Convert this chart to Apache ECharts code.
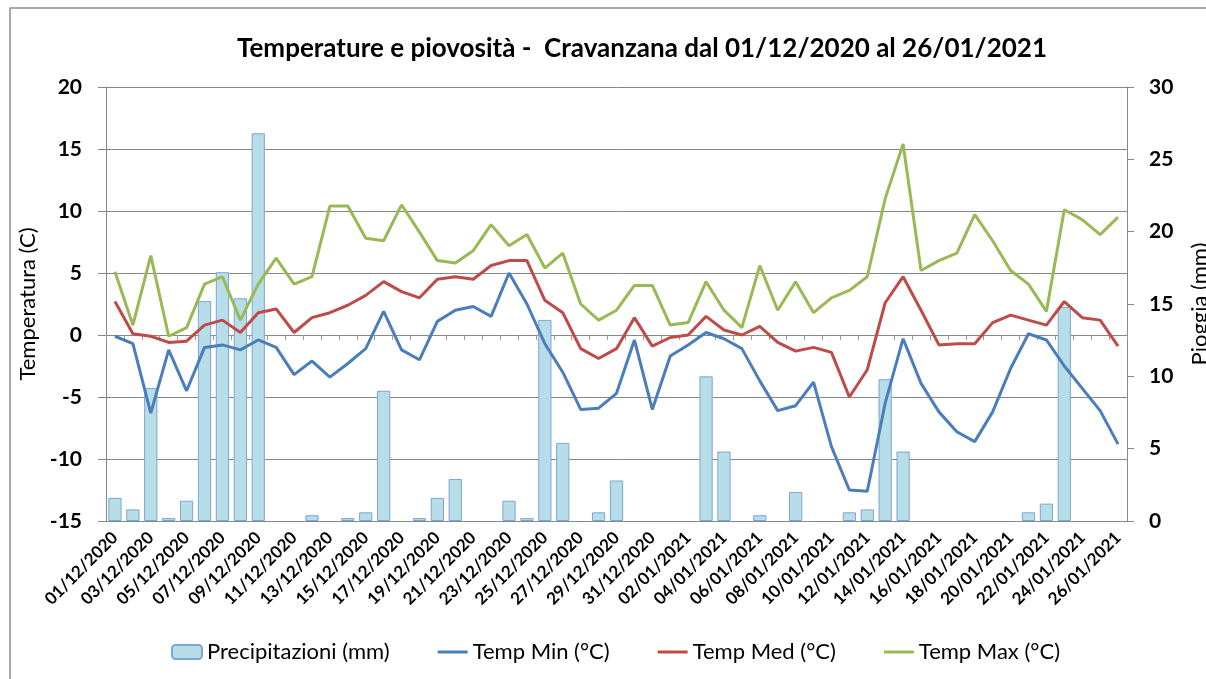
<!DOCTYPE html>
<html>
<head>
<meta charset="utf-8">
<script src="https://cdn.jsdelivr.net/npm/echarts@6/dist/echarts.min.js"></script>
<style>
  html, body { margin: 0; padding: 0; background: #fff; }
  #main { width: 1206px; height: 679px; }
</style>
</head>
<body>
<div id="main"></div>
<script>
// dati giornalieri 01/12/2020 - 26/01/2021
var days = [];
var start = new Date(2020, 11, 1);
for (var i = 0; i < 57; i++) {
    var d = new Date(start.getTime() + i * 24 * 3600 * 1000);
    var dd = ('0' + d.getDate()).slice(-2);
    var mm = ('0' + (d.getMonth() + 1)).slice(-2);
    days.push(dd + '/' + mm + '/' + d.getFullYear());
}

// null = nessuna pioggia
var pioggia = [1.6, 0.8, 9.2, 0.2, 1.4, 15.2, 17.2, 15.4, 26.8, null, null, 0.4, null, 0.2, 0.6,
    9.0, null, 0.2, 1.6, 2.9, null, null, 1.4, 0.2, 13.9, 5.4, null, 0.6, 2.8, null,
    null, null, null, 10.0, 4.8, null, 0.4, null, 2.0, null, null, 0.6, 0.8, 9.8, 4.8,
    null, null, null, null, null, null, 0.6, 1.2, 14.8, null, null, null];

var tMin = [-0.1, -0.7, -6.3, -1.2, -4.5, -1.0, -0.8, -1.2, -0.4, -1.0, -3.2, -2.1, -3.4, -2.3, -1.1,
    1.9, -1.2, -2.0, 1.1, 2.0, 2.3, 1.5, 5.0, 2.5, -0.7, -3.0, -6.0, -5.9, -4.7, -0.4,
    -6.0, -1.7, -0.8, 0.2, -0.3, -1.1, -3.7, -6.1, -5.7, -3.8, -9.0, -12.5, -12.6, -5.5, -0.3,
    -3.9, -6.2, -7.8, -8.6, -6.2, -2.7, 0.1, -0.4, -2.5, -4.3, -6.1, -8.8];

var tMed = [2.7, 0.1, -0.1, -0.6, -0.5, 0.8, 1.2, 0.2, 1.8, 2.1, 0.2, 1.4, 1.8, 2.4, 3.2,
    4.3, 3.5, 3.0, 4.5, 4.7, 4.5, 5.6, 6.0, 6.0, 2.8, 1.8, -1.1, -1.9, -1.1, 1.4,
    -0.9, -0.2, 0.0, 1.5, 0.4, 0.0, 0.7, -0.6, -1.3, -1.0, -1.4, -5.0, -2.8, 2.6, 4.7,
    2.0, -0.8, -0.7, -0.7, 1.0, 1.6, 1.2, 0.8, 2.7, 1.4, 1.2, -0.9];

var tMax = [5.1, 0.8, 6.4, -0.1, 0.6, 4.1, 4.7, 1.2, 4.1, 6.2, 4.1, 4.7, 10.4, 10.4, 7.8,
    7.6, 10.5, 8.3, 6.0, 5.8, 6.8, 8.9, 7.2, 8.1, 5.4, 6.6, 2.5, 1.2, 2.0, 4.0,
    4.0, 0.8, 1.0, 4.3, 2.0, 0.6, 5.6, 2.0, 4.3, 1.8, 3.0, 3.6, 4.7, 11.0, 15.4,
    5.2, 6.0, 6.6, 9.7, 7.6, 5.2, 4.1, 1.9, 10.1, 9.3, 8.1, 9.5];

var font = 'Lato, "Open Sans", sans-serif';
var gridGray = '#878787';
var lineIcon = 'path://M0,0h30v3h-30z';

var myChart = echarts.init(document.getElementById('main'));

var option = {
    backgroundColor: '#fff',
    textStyle: { fontFamily: font },
    graphic: [{
        type: 'rect',
        shape: { x: 10, y: 8, width: 1300, height: 700 },
        style: { fill: 'none', stroke: '#8c8c8c', lineWidth: 1.5 },
        silent: true
    }],
    title: {
        text: 'Temperature e piovosità -  Cravanzana dal 01/12/2020 al 26/01/2021',
        left: 232,
        top: 31,
        textStyle: { fontFamily: font, fontSize: 26, fontWeight: 'bold', color: '#000' }
    },
    legend: {
        bottom: 11,
        left: 166,
        itemWidth: 30,
        itemHeight: 14,
        itemGap: 48,
        textStyle: { fontFamily: font, fontSize: 22, color: '#000' },
        data: [
            { name: 'Precipitazioni (mm)' },
            { name: 'Temp Min (°C)', icon: lineIcon },
            { name: 'Temp Med (°C)', icon: lineIcon },
            { name: 'Temp Max (°C)', icon: lineIcon }
        ]
    },
    grid: { left: 106, right: 79, top: 87, bottom: 158, outerBoundsMode: 'none', containLabel: false },
    xAxis: [{
        type: 'category',
        data: days,
        boundaryGap: true,
        axisLine: { show: false, onZero: false },
        axisTick: { show: false },
        axisLabel: {
            interval: 1,
            rotate: 45,
            fontFamily: font,
            fontSize: 17,
            fontWeight: 'bold',
            color: '#000',
            margin: 14
        }
    }, {
        type: 'category',
        data: days,
        boundaryGap: true,
        position: 'bottom',
        axisLine: { show: true, onZero: true, onZeroAxisIndex: 0, lineStyle: { color: gridGray, width: 1 } },
        axisTick: { show: true, interval: 0, length: 5, lineStyle: { color: '#999' } },
        axisLabel: { show: false }
    }],
    yAxis: [{
        type: 'value',
        name: 'Temperatura (C)',
        nameLocation: 'middle',
        nameRotate: 90,
        nameGap: 64,
        nameTextStyle: { fontFamily: font, fontSize: 22, color: '#000' },
        min: -15,
        max: 20,
        interval: 5,
        axisLine: { show: true, lineStyle: { color: gridGray } },
        axisTick: { show: true, length: 8, lineStyle: { color: gridGray } },
        axisLabel: { fontFamily: font, fontSize: 21, fontWeight: 'bold', color: '#000', margin: 24 },
        splitLine: { show: true, lineStyle: { color: gridGray, width: 1 } }
    }, {
        type: 'value',
        name: 'Pioggia (mm)',
        nameLocation: 'middle',
        nameRotate: 90,
        nameGap: 62,
        nameTextStyle: { fontFamily: font, fontSize: 22, color: '#000' },
        min: 0,
        max: 30,
        interval: 5,
        position: 'right',
        axisLine: { show: true, lineStyle: { color: gridGray } },
        axisTick: { show: true, length: 7, lineStyle: { color: gridGray } },
        axisLabel: { fontFamily: font, fontSize: 21, fontWeight: 'bold', color: '#000', margin: 22 },
        splitLine: { show: false }
    }],
    series: [{
        name: 'Precipitazioni (mm)',
        type: 'bar',
        xAxisIndex: 0,
        yAxisIndex: 1,
        data: pioggia,
        barCategoryGap: '26%',
        itemStyle: { color: '#B7DDE8', borderColor: '#7DA5D8', borderWidth: 1 },
        z: 1
    }, {
        name: 'Temp Min (°C)',
        type: 'line',
        xAxisIndex: 0,
        yAxisIndex: 0,
        data: tMin,
        showSymbol: false,
        lineStyle: { color: '#4A7EBB', width: 3 },
        itemStyle: { color: '#4A7EBB' },
        z: 3
    }, {
        name: 'Temp Med (°C)',
        type: 'line',
        xAxisIndex: 0,
        yAxisIndex: 0,
        data: tMed,
        showSymbol: false,
        lineStyle: { color: '#BE4B48', width: 3 },
        itemStyle: { color: '#BE4B48' },
        z: 3
    }, {
        name: 'Temp Max (°C)',
        type: 'line',
        xAxisIndex: 0,
        yAxisIndex: 0,
        data: tMax,
        showSymbol: false,
        lineStyle: { color: '#98B954', width: 3 },
        itemStyle: { color: '#98B954' },
        z: 3
    }]
};

myChart.setOption(option);
</script>
</body>
</html>
